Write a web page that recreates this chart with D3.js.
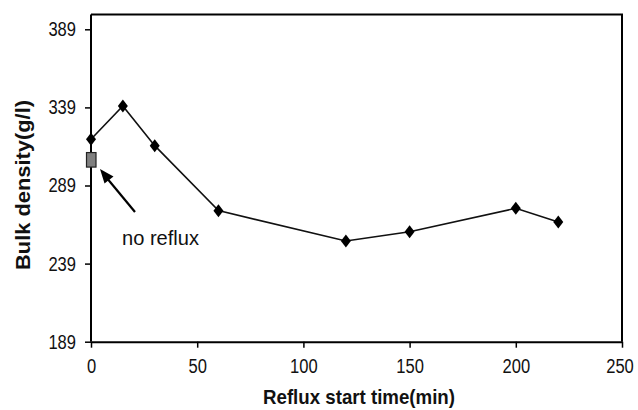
<!DOCTYPE html>
<html><head><meta charset="utf-8">
<script src="https://cdn.jsdelivr.net/npm/d3@7"></script>
<style>body{margin:0;background:#fff}</style>
</head><body>
<svg id="c" width="638" height="410"></svg>
<script>
const times = [0, 15, 30, 60, 120, 150, 200, 220];
const density = [318.6, 339.9, 314.5, 272.9, 253.5, 259.4, 274.4, 265.6];
const noRefluxTime = [0];
const noRefluxDensity = [305.6];
const xTicks = [0, 50, 100, 150, 200, 250];
const yTicks = [189, 239, 289, 339, 389];

const svg = d3.select("#c");
const L = 91, R = 622, T = 14.5, B = 341.7;
const x = d3.scaleLinear().domain([0, 250]).range([L, R]);
const y = d3.scaleLinear().domain([189, 389]).range([B, 29.3]);
const font = "'Liberation Sans', Arial, sans-serif";

// frame top and right
svg.append("path").attr("d", `M${L},${T}H${R}V${B}`).attr("fill","none").attr("stroke","#000").attr("stroke-width",2);

const xa = svg.append("g").attr("transform",`translate(0,${B})`)
  .call(d3.axisBottom(x).tickValues(xTicks).tickSizeOuter(0).tickSizeInner(6).tickPadding(11));
const ya = svg.append("g").attr("transform",`translate(${L},0)`)
  .call(d3.axisLeft(y).tickValues(yTicks).tickSizeOuter(0).tickSizeInner(6).tickPadding(9));
ya.select(".domain").attr("d", `M0,${T}V${B}`);
[xa, ya].forEach(a => {
  a.select(".domain").attr("stroke","#000").attr("stroke-width",2);
  a.selectAll(".tick line").attr("stroke","#000").attr("stroke-width",1.5);
  a.selectAll(".tick text").attr("font-family",font).attr("font-size",20).attr("fill","#111")
    .attr("textLength", function(){ return this.textContent.length * 9.2; })
    .attr("lengthAdjust","spacingAndGlyphs");
});
xa.selectAll(".tick").filter(d => d === 250).select("text").attr("x", -2.5);

// line
svg.append("path").datum(times.map((t,i)=>[t,density[i]]))
  .attr("d", d3.line().x(d=>x(d[0])).y(d=>y(d[1])))
  .attr("fill","none").attr("stroke","#111").attr("stroke-width",1.6);

// diamond markers
svg.selectAll(".dm").data(times.map((t,i)=>[t,density[i]])).enter().append("path")
  .attr("transform", d=>`translate(${x(d[0])},${y(d[1])})`)
  .attr("d","M0,-6.5L5,0L0,6.5L-5,0Z").attr("fill","#000");

// no reflux square
svg.selectAll(".sq").data(noRefluxTime.map((t,i)=>[t,noRefluxDensity[i]])).enter().append("rect")
  .attr("x", d=>x(d[0])-4.5).attr("y", d=>y(d[1])-7).attr("width",9.5).attr("height",14.5)
  .attr("fill","#808080").attr("stroke","#222").attr("stroke-width",1.2);

// arrow
svg.append("path").attr("d","M100,169L113.5,176.5L104.5,183.5Z").attr("fill","#000");
svg.append("line").attr("x1",135).attr("y1",212).attr("x2",106).attr("y2",177)
  .attr("stroke","#000").attr("stroke-width",2.2);

svg.append("text").attr("x",122).attr("y",245).attr("font-family",font).attr("font-size",20)
  .attr("textLength",77).attr("lengthAdjust","spacingAndGlyphs").attr("fill","#111").text("no reflux");

// titles
svg.append("text").attr("x",359).attr("y",404).attr("text-anchor","middle").attr("font-family",font)
  .attr("font-weight","bold").attr("font-size",21).attr("textLength",192).attr("lengthAdjust","spacingAndGlyphs")
  .attr("fill","#111").text("Reflux start time(min)");
svg.append("text").attr("transform","translate(30,185) rotate(-90)").attr("text-anchor","middle")
  .attr("font-family",font).attr("font-weight","bold").attr("font-size",21).attr("textLength",170)
  .attr("lengthAdjust","spacingAndGlyphs").attr("fill","#111").text("Bulk density(g/l)");
</script>
</body></html>
